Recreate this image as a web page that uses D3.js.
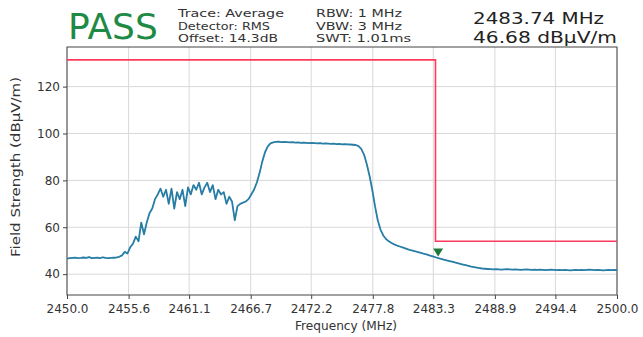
<!DOCTYPE html>
<html><head><meta charset="utf-8">
<script src="https://cdn.jsdelivr.net/npm/d3@7"></script>
<style>body{margin:0;background:#fff;} svg{font-family:"DejaVu Sans",sans-serif;}</style>
</head><body>
<svg id="c" width="643" height="337"></svg>
<script>
const xTicks = [2450.0, 2455.6, 2461.1, 2466.7, 2472.2, 2477.8, 2483.3, 2488.9, 2494.4, 2500.0];
const yTicks = [40, 60, 80, 100, 120];
const traceValues = [
 46.6,46.8,46.9,47.0,46.8,46.9,47.1,46.9,47.3,46.8,46.9,47.0,46.8,47.2,46.9,46.8,46.9,47.0,47.1,47.4,
 48.0,49.5,48.8,51.5,53.0,56.0,54.0,62.0,57.0,62.0,66.0,68.0,72.0,74.0,76.5,73.0,
 76.0,70.0,76.5,68.0,75.0,72.0,76.0,69.0,77.0,74.0,78.0,76.0,79.0,74.0,77.0,79.0,75.0,78.0,72.0,76.0,74.0,75.0,70.0,73.0,71.0,
 63.0,69.0,70.0,70.5,71.0,72.0,74.0,76.0,
 79.0,83.0,88.0,92.0,94.5,95.8,96.2,96.4,
 96.5,96.3,96.4,96.3,96.2,96.3,96.1,96.2,96.0,96.1,96.0,95.9,96.0,95.9,95.8,95.9,95.7,95.8,95.7,95.6,95.7,95.5,95.6,95.4,95.5,95.4,95.3,95.2,95.1,
 94.6,93.4,91.0,87.0,82.0,76.0,69.0,63.0,59.0,56.5,55.0,54.0,53.3,52.7,52.2,51.8,
 51.4,51.0,50.6,50.2,49.9,49.6,49.3,49.0,48.6,48.3,47.9,47.6,47.2,46.8,46.5,46.2,
 45.9,45.6,45.3,45.0,44.7,44.4,44.1,43.8,43.5,43.2,43.0,42.8,42.6,42.4,42.3,42.2,
 42.1,42.0,42.1,42.0,41.9,42.0,42.1,42.0,41.9,42.0,41.9,41.8,41.9,42.0,41.9,41.8,
 41.9,41.8,41.9,41.8,41.7,41.8,41.9,41.8,41.7,41.8,41.7,41.8,41.7,41.6,41.7,41.8,
 41.7,41.8,41.7,41.8,41.9,41.8,41.7,41.8,41.7,41.6,41.7,41.8,41.7,41.8,41.7
];
const traceStart = 2450, traceStep = 0.25;
const limitFreq = [2450, 2483.5, 2483.5, 2500];
const limitLevel = [131.4, 131.4, 54, 54];
const markerFreq = 2483.74, markerLevel = 46.68;
const infoCol1 = ["Trace: Average", "Detector: RMS", "Offset: 14.3dB"];
const infoCol2 = ["RBW: 1 MHz", "VBW: 3 MHz", "SWT: 1.01ms"];
const infoLen1 = [106, 92, 100];
const infoLen2 = [86, 86, 95];
const readout = ["2483.74 MHz", "46.68 dBµV/m"];
const readoutLen = [131, 144];

const svg = d3.select("#c");
const L = 67, R = 617, T = 47, B = 295;
const x = d3.scaleLinear().domain([2450, 2500]).range([L, R]);
const y = d3.scaleLinear().domain([31.1, 136.9]).range([B, T]);

// grid
svg.append("g").selectAll("line").data(xTicks).join("line")
  .attr("x1", d => x(d)).attr("x2", d => x(d)).attr("y1", T).attr("y2", B)
  .attr("stroke", "#d8d8d8").attr("stroke-width", 1);
svg.append("g").selectAll("line").data(yTicks).join("line")
  .attr("x1", L).attr("x2", R).attr("y1", d => y(d)).attr("y2", d => y(d))
  .attr("stroke", "#d8d8d8").attr("stroke-width", 1);

// axes
const xa = svg.append("g").attr("transform", `translate(0,${B})`)
  .call(d3.axisBottom(x).tickValues(xTicks).tickFormat(d3.format(".1f")).tickSize(4).tickSizeOuter(0));
const ya = svg.append("g").attr("transform", `translate(${L},0)`)
  .call(d3.axisLeft(y).tickValues(yTicks).tickSize(4).tickSizeOuter(0));
[xa, ya].forEach(a => {
  a.selectAll("text").attr("font-size", 12).attr("fill", "#333").attr("font-family", "DejaVu Sans");
  a.selectAll("line").attr("stroke", "#444");
  a.select(".domain").attr("stroke", "none");
});
xa.selectAll("text").attr("dy", "0.95em");
svg.append("rect").attr("x", L).attr("y", T).attr("width", R - L).attr("height", B - T)
  .attr("fill", "none").attr("stroke", "#444").attr("stroke-width", 1);

// limit
svg.append("path").datum(limitFreq.map((f, i) => [f, limitLevel[i]]))
  .attr("d", d3.line().x(d => x(d[0])).y(d => y(d[1])))
  .attr("fill", "none").attr("stroke", "#ff3a5c").attr("stroke-width", 1.6);

// trace
const trace = traceValues.map((v, i) => [traceStart + i * traceStep, v]);
svg.append("path").datum(trace)
  .attr("d", d3.line().x(d => x(d[0])).y(d => y(d[1])))
  .attr("fill", "none").attr("stroke", "#2a80b9").attr("stroke-width", 1.8).attr("stroke-linejoin", "round");
svg.append("path").datum(trace)
  .attr("d", d3.line().x(d => x(d[0])).y(d => y(d[1])))
  .attr("fill", "none").attr("stroke", "#2c7a6a").attr("stroke-width", 0.7).attr("stroke-opacity", 0.6);

// marker
const mx = x(markerFreq), my = y(markerLevel);
svg.append("path").attr("d", `M${mx - 5},${my - 10}L${mx + 5},${my - 10}L${mx},${my - 2}Z`)
  .attr("fill", "#1f7a3a");

// labels
svg.append("text").attr("x", 346).attr("y", 330).attr("text-anchor", "middle")
  .attr("font-size", 12).attr("textLength", 102).attr("lengthAdjust", "spacingAndGlyphs")
  .attr("fill", "#333").text("Frequency (MHz)");
svg.append("text").attr("transform", `translate(20,${167}) rotate(-90)`).attr("text-anchor", "middle")
  .attr("font-size", 12).attr("textLength", 180).attr("lengthAdjust", "spacingAndGlyphs")
  .attr("fill", "#333").text("Field Strength (dBµV/m)");

// header
svg.append("text").attr("x", 68).attr("y", 39).attr("font-size", 36).attr("fill", "#1e8a45").text("PASS");
infoCol1.forEach((t, i) => svg.append("text").attr("x", 178).attr("y", 17 + i * 12.5)
  .attr("font-size", 10.5).attr("textLength", infoLen1[i]).attr("lengthAdjust", "spacingAndGlyphs")
  .attr("fill", "#333").text(t));
infoCol2.forEach((t, i) => svg.append("text").attr("x", 316).attr("y", 17 + i * 12.5)
  .attr("font-size", 10.5).attr("textLength", infoLen2[i]).attr("lengthAdjust", "spacingAndGlyphs")
  .attr("fill", "#333").text(t));
readout.forEach((t, i) => svg.append("text").attr("x", 473).attr("y", 24 + i * 19)
  .attr("font-size", 16.5).attr("textLength", readoutLen[i]).attr("lengthAdjust", "spacingAndGlyphs")
  .attr("fill", "#222").text(t));
</script>
</body></html>
